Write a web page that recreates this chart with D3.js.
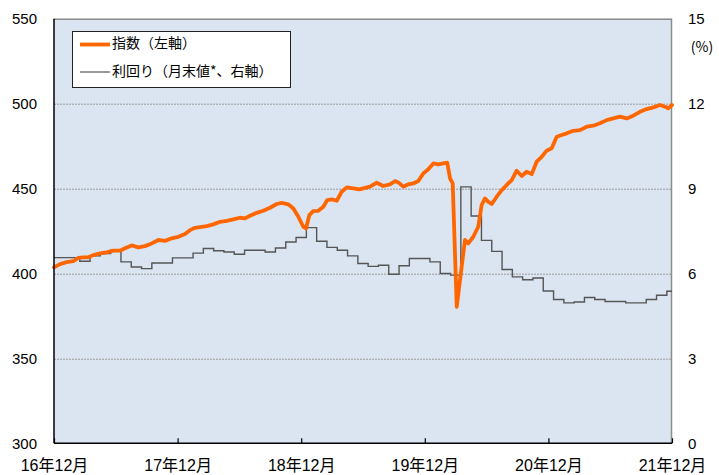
<!DOCTYPE html>
<html>
<head>
<meta charset="utf-8">
<script src="https://cdn.jsdelivr.net/npm/d3@7"></script>
<style>
body { margin: 0; background: #fff; }
text { font-family: "Liberation Sans", Arial, "Noto Sans CJK JP", sans-serif; fill: #000; }
.jp { font-family: "Noto Sans CJK JP", sans-serif; }
</style>
</head>
<body>
<svg width="719" height="475"></svg>
<script>
// months since Dec 2016 (index line, sampled about twice a month)
var idxMonth = [0, 0.58, 1.23, 1.87, 2.36, 2.84, 3.33, 3.82, 4.47, 5.12, 5.76, 6.41, 6.89, 7.54, 8.18, 8.83,
  9.49, 10.13, 10.78, 11.43, 12.07, 12.72, 13.2, 13.69, 14.34, 14.83, 15.47, 16.12, 16.77, 17.41, 18.06,
  18.54, 19.03, 19.68, 20.32, 20.97, 21.62, 22.11, 22.75, 23.24, 23.72, 24.2, 24.47, 24.79, 25.17, 25.66,
  26.15, 26.53, 26.96, 27.45, 27.93, 28.42, 29.06, 29.64, 30.03, 30.68, 31.33, 31.97, 32.62, 33.11, 33.43,
  33.91, 34.4, 34.88, 35.37, 35.85, 36.34, 36.83, 37.31, 37.8, 38.18, 38.45, 38.71, 39.1, 39.42, 39.9,
  40.22, 40.71, 41.19, 41.52, 41.84, 42.17, 42.5, 42.98, 43.47, 43.95, 44.44, 44.92, 45.41, 45.89, 46.38,
  46.86, 47.35, 47.83, 48.32, 48.81, 49.29, 49.78, 50.42, 51.07, 51.72, 52.36, 53.01, 53.66, 54.3, 54.95,
  55.6, 56.24, 56.89, 57.54, 58.19, 58.83, 59.32, 59.64, 60];

var idxValue = [403.6, 405.5, 406.7, 407.3, 409.2, 409.5, 409.5, 410.8, 411.8, 412.4, 413.4, 413.4, 414.8, 416.5, 415.4, 416.1,
  417.7, 419.7, 419.2, 420.7, 421.6, 423.2, 425.5, 426.9, 427.5, 427.9, 428.9, 430.4, 431.0, 431.8, 432.8,
  432.4, 434.0, 435.7, 436.9, 438.7, 440.9, 441.6, 440.7, 438.3, 433.4, 427.5, 426.5, 434.4, 436.7, 436.9,
  439.3, 443.2, 443.6, 442.8, 448.1, 450.7, 450.1, 449.5, 450.1, 451.1, 453.4, 451.5, 452.5, 454.4, 453.6,
  451.1, 452.5, 453.0, 454.4, 458.9, 461.3, 464.8, 464.2, 464.8, 465.2, 456.0, 453.0, 380.4, 396.1, 419.7,
  417.7, 421.6, 427.5, 440.3, 444.2, 442.2, 440.9, 445.2, 449.1, 452.1, 455.0, 460.5, 457.4, 459.9, 458.5,
  465.8, 468.7, 472.3, 473.7, 480.5, 481.5, 482.5, 484.0, 484.4, 486.4, 487.0, 488.4, 490.3, 491.3, 492.3,
  491.3, 492.9, 495.2, 496.8, 497.8, 499.2, 498.2, 497.2, 499.2];

// month-end yield (%), Dec 2016 .. Dec 2021
var yieldValue = [6.56, 6.56, 6.56, 6.43, 6.62, 6.70, 6.82, 6.41, 6.23, 6.17, 6.37, 6.37,
  6.55, 6.55, 6.72, 6.88, 6.80, 6.76, 6.68, 6.82, 6.82, 6.76, 6.90, 7.11,
  7.27, 7.62, 7.14, 6.92, 6.82, 6.62, 6.35, 6.25, 6.29, 5.97, 6.27, 6.53,
  6.53, 6.41, 6.00, 5.94, 9.06, 8.03, 7.17, 6.78, 6.14, 5.88, 5.78, 5.84,
  5.38, 5.08, 4.96, 4.99, 5.15, 5.08, 5.01, 5.01, 4.96, 4.96, 5.08, 5.23, 5.37];

var xTickMonth = [0, 12, 24, 36, 48, 60];
var xLabels = ["16年12月", "17年12月", "18年12月", "19年12月", "20年12月", "21年12月"];
var leftTicks = [300, 350, 400, 450, 500, 550];
var rightTicks = [0, 3, 6, 9, 12, 15];

var svg = d3.select("svg");
var margin = {top: 18.7, left: 54, right: 47, bottom: 31.7};
var width = 719 - margin.left - margin.right;
var height = 475 - margin.top - margin.bottom;

var g = svg.append("g")
.attr("transform", "translate(" + margin.left + "," + margin.top + ")");

var x = d3.scaleLinear().domain([0, 60]).range([0, width]);
var yL = d3.scaleLinear().domain([300, 550]).range([height, 0]);
var yR = d3.scaleLinear().domain([0, 15]).range([height, 0]);

// plot background
g.append("rect")
.attr("width", width)
.attr("height", height)
.attr("fill", "#dbe5f1");

// dotted grid
g.selectAll(".grid")
.data([350, 400, 450, 500])
.enter()
.append("line")
.attr("x1", 0)
.attr("x2", width)
.attr("y1", (d)=>Math.round(yL(d)) + 0.5)
.attr("y2", (d)=>Math.round(yL(d)) + 0.5)
.attr("stroke", "#9a9a9a")
.attr("stroke-width", 1)
.attr("stroke-dasharray", "2,1");

// top and right border
g.append("path")
.attr("d", "M0,0.5H" + (width - 0.5) + "V" + height)
.attr("fill", "none")
.attr("stroke", "#8c8c8c")
.attr("stroke-width", 1.5);

// yield (step line)
var yieldLine = d3.line()
.x((d, i)=>x(i))
.y((d)=>yR(d))
.curve(d3.curveStep);

g.append("path")
.datum(yieldValue)
.attr("d", yieldLine)
.attr("fill", "none")
.attr("stroke", "#555555")
.attr("stroke-width", 1.4);

// index line
var idxData = idxMonth.map((m, i)=>({m: m, v: idxValue[i]}));
var idxLine = d3.line()
.x((d)=>x(d.m))
.y((d)=>yL(d.v));

g.append("path")
.datum(idxData)
.attr("d", idxLine)
.attr("fill", "none")
.attr("stroke", "#ff6600")
.attr("stroke-width", 3.8)
.attr("stroke-linejoin", "round")
.attr("stroke-linecap", "round");

// axes
var leftAxis = g.append("g")
.call(d3.axisLeft(yL).tickValues(leftTicks).tickSize(0).tickPadding(17));
leftAxis.select(".domain").remove();
leftAxis.selectAll("text").style("font-size", "15px");

var rightAxis = g.append("g")
.attr("transform", "translate(" + width + ",0)")
.call(d3.axisRight(yR).tickValues(rightTicks).tickSize(0).tickPadding(16));
rightAxis.select(".domain").remove();
rightAxis.selectAll("text").style("font-size", "15px");

var bottomAxis = g.append("g")
.attr("transform", "translate(0," + height + ")")
.call(d3.axisBottom(x).tickValues(xTickMonth).tickSize(-5).tickPadding(16)
  .tickFormat((d, i)=>xLabels[i]));
bottomAxis.select(".domain").remove();
bottomAxis.selectAll("line").attr("stroke", "#000").attr("stroke-width", 1.2);
bottomAxis.selectAll("text").style("font-size", "16px");

g.append("line")
.attr("x1", 0).attr("x2", width)
.attr("y1", height).attr("y2", height)
.attr("stroke", "#000")
.attr("stroke-width", 1.5);

g.append("line")
.attr("x1", 0).attr("x2", 0)
.attr("y1", 0).attr("y2", height)
.attr("stroke", "#000")
.attr("stroke-width", 1.5);

svg.append("text")
.attr("class", "jp")
.attr("x", 702)
.attr("y", 48)
.attr("text-anchor", "middle")
.attr("dominant-baseline", "middle")
.style("font-size", "14px")
.text("(%)");

// legend
var legend = svg.append("g").attr("transform", "translate(72,31)");
legend.append("rect")
.attr("x", 0.5)
.attr("y", 0.5)
.attr("width", 218)
.attr("height", 56)
.attr("fill", "#fff")
.attr("stroke", "#222")
.attr("stroke-width", 1);

var legendItems = [
  {label: "指数（左軸）", color: "#ff6600", w: 3.8},
  {label: "利回り（月末値*、右軸）", color: "#555555", w: 1.2}
];

legendItems.forEach(function(d, i) {
  var yy = 13.5 + i * 27.5;
  legend.append("line")
  .attr("x1", 8).attr("x2", 38)
  .attr("y1", yy).attr("y2", yy)
  .attr("stroke", d.color)
  .attr("stroke-width", d.w);
  legend.append("text")
  .attr("class", "jp")
  .attr("x", 40)
  .attr("y", yy)
  .attr("dominant-baseline", "middle")
  .style("font-size", "14px")
  .text(d.label);
});
</script>
</body>
</html>
